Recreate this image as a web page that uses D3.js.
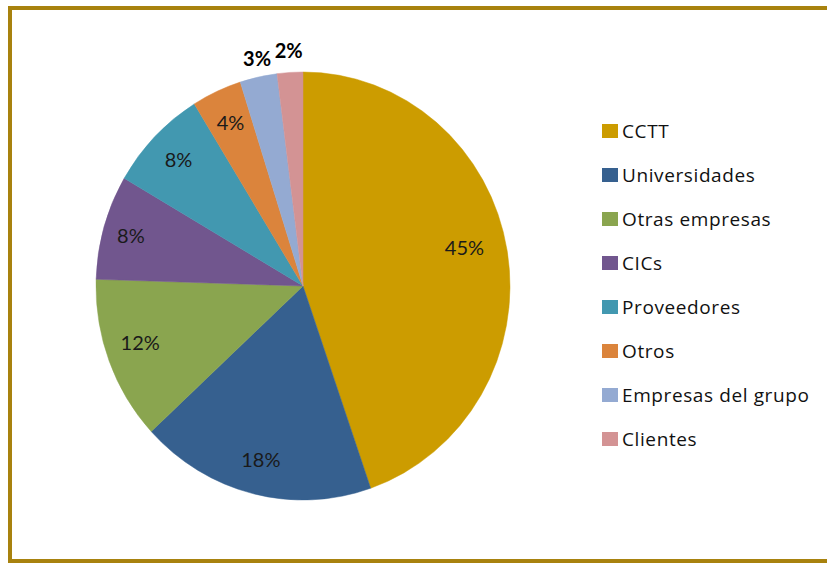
<!DOCTYPE html>
<html><head><meta charset="utf-8">
<script src="https://cdn.jsdelivr.net/npm/d3@7"></script>
<style>html,body{margin:0;padding:0;background:#fff;}svg{display:block;}</style>
</head><body>
<script>
const categories = ["CCTT","Universidades","Otras empresas","CICs","Proveedores","Otros","Empresas del grupo","Clientes"];
const values = [44.7,18.4,12.4,7.9,7.8,3.9,2.9,2.0];
const colors = ["#CC9C00","#36608F","#8AA54F","#71568E","#4298B0","#DB843C","#94AAD2","#D39394"];
const outside = [false,false,false,false,false,false,true,true];

const W=827,H=563;
const svg=d3.select("body").append("svg").attr("width",W).attr("height",H);
svg.append("rect").attr("width",W).attr("height",H).attr("fill","#fff");
// frame
svg.append("rect").attr("x",10).attr("y",8).attr("width",W+20).attr("height",H-8-2)
  .attr("fill","none").attr("stroke","#A8820E").attr("stroke-width",4);

const cx=303, cy=286, ry=214, rx=207, sx=rx/ry;
const g=svg.append("g").attr("transform",`translate(${cx},${cy})`);
const pg=g.append("g").attr("transform",`scale(${sx},1)`);
const pie=d3.pie().sort(null).value(d=>d.v);
const data=pie(categories.map((c,i)=>({c,v:values[i],col:colors[i],out:outside[i]})));
const arc=d3.arc().innerRadius(0).outerRadius(ry);
pg.selectAll("path").data(data).join("path").attr("d",arc).attr("fill",d=>d.data.col)
  .attr("stroke",d=>d.data.col).attr("stroke-width",0.5);
const inArc=d3.arc().innerRadius(ry*0.84).outerRadius(ry*0.84);
const outArc=d3.arc().innerRadius(ry*1.1).outerRadius(ry*1.1);
g.selectAll("text").data(data).join("text")
  .attr("transform",d=>{const p=(d.data.out?outArc:inArc).centroid(d); p[0]*=sx; if(d.index===0){p[0]-=10;p[1]-=8;} if(d.index===2){p[1]-=6;} if(d.index===3){p[0]-=5;} if(d.index===6){p[0]+=3;p[1]+=3;} return `translate(${p})`;})
  .attr("text-anchor","middle").attr("dy","0.35em")
  .attr("font-family","Lato, 'Open Sans', sans-serif").attr("font-size",20)
  .attr("fill",d=>d.data.out?"#000":"#1a1a1a")
  .attr("font-weight",d=>d.data.out?"bold":"normal")
  .text(d=>Math.round(d.data.v)+"%");

const leg=svg.append("g");
const ly=d3.scalePoint().domain(categories).range([131,439]);
categories.forEach((c,i)=>{
  const y=ly(c);
  leg.append("rect").attr("x",602).attr("y",y-7).attr("width",16).attr("height",14).attr("fill",colors[i]);
  leg.append("text").attr("x",622).attr("y",y).attr("dy","0.35em")
    .attr("font-family","'Open Sans', Lato, sans-serif").attr("font-size",19)
    .attr("letter-spacing",0.6).attr("fill","#111").text(c);
});
</script>
</body></html>
